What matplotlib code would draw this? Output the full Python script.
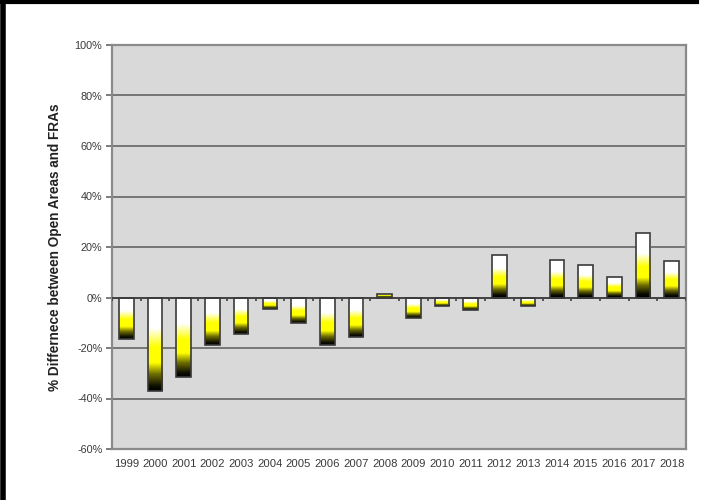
import numpy as np
import matplotlib
matplotlib.use("Agg")
import matplotlib.pyplot as plt
from matplotlib.colors import LinearSegmentedColormap
from matplotlib.lines import Line2D

# Data
years = ['1999', '2000', '2001', '2002', '2003', '2004', '2005', '2006', '2007', '2008',
         '2009', '2010', '2011', '2012', '2013', '2014', '2015', '2016', '2017', '2018']
pct_diff = [-16.5, -37, -31.5, -19, -14.5, -4.5, -10, -19, -15.5, 1.5,
            -8, -3.5, -5, 17, -3.5, 15, 13, 8, 25.5, 14.5]
yticks = [-60, -40, -20, 0, 20, 40, 60, 80, 100]
ylabel = '% Differnece between Open Areas and FRAs'

plt.rcParams['font.family'] = ['Liberation Sans', 'DejaVu Sans']

# black (bottom) -> yellow -> white (top)
grad = LinearSegmentedColormap.from_list(
    'bw', [(0.0, '#000000'), (0.05, '#0d0d00'), (0.18, '#6e6e00'), (0.3, '#ffff00'),
           (0.47, '#ffff00'), (0.67, '#ffffff'), (1.0, '#ffffff')])

fig = plt.figure(figsize=(7.14, 5.0), dpi=100)
ax = fig.add_axes([112 / 714, 51 / 500, 574 / 714, 404 / 500])
ax.set_facecolor('#d9d9d9')

x = np.arange(len(years))

# gridlines
for t in yticks[1:-1]:
    ax.axhline(t, color='#6e6e6e', lw=1.3, zorder=1)
ax.axhline(0, color='#404040', lw=1.3, zorder=3)

# gradient bars
width = 0.51
gimg = np.linspace(0, 1, 256).reshape(-1, 1)
bars = ax.bar(x, pct_diff, width=width, color='none', edgecolor='#3a3a3a',
              linewidth=1.2, zorder=4)
for b in bars:
    x0 = b.get_x()
    y0 = b.get_y()
    h = b.get_height()
    lo, hi = min(y0, y0 + h), max(y0, y0 + h)
    im = ax.imshow(gimg, cmap=grad, origin='lower', aspect='auto',
                   extent=[x0, x0 + b.get_width(), lo, hi], zorder=2,
                   interpolation='bilinear')
    im.set_clip_path(b)

# small tick marks on zero axis between categories
ax.vlines(np.arange(len(years) + 1) - 0.5, -1.3, 0, color='#404040', lw=1.2, zorder=3)
ax.set_xlim(-0.5, len(years) - 0.5)
ax.set_ylim(-60, 100)

ax.set_xticks(x)
ax.set_xticklabels(years, fontsize=8.1, color='#3a3a3a')
ax.tick_params(axis='x', length=0, pad=7)

ax.set_yticks(yticks)
ax.set_yticklabels([f'{t}%' for t in yticks], fontsize=7.8, color='#3a3a3a')
ax.tick_params(axis='y', length=4, width=1.2, color='#666666', pad=3)

for s in ax.spines.values():
    s.set_color('#8a8a8a')
    s.set_linewidth(1.6)

ax.set_ylabel(ylabel, fontsize=9.8, fontweight='bold', color='#222222')
ax.yaxis.set_label_coords(-50 / 574, 0.5)

# outer frame lines (top and left)
fig.add_artist(Line2D([0, 697 / 714], [0.996, 0.996], color='black', lw=3,
                      transform=fig.transFigure))
fig.add_artist(Line2D([0.004, 0.004], [0, 0.99], color='black', lw=4,
                      transform=fig.transFigure))

fig.savefig('out.png', dpi=100)
